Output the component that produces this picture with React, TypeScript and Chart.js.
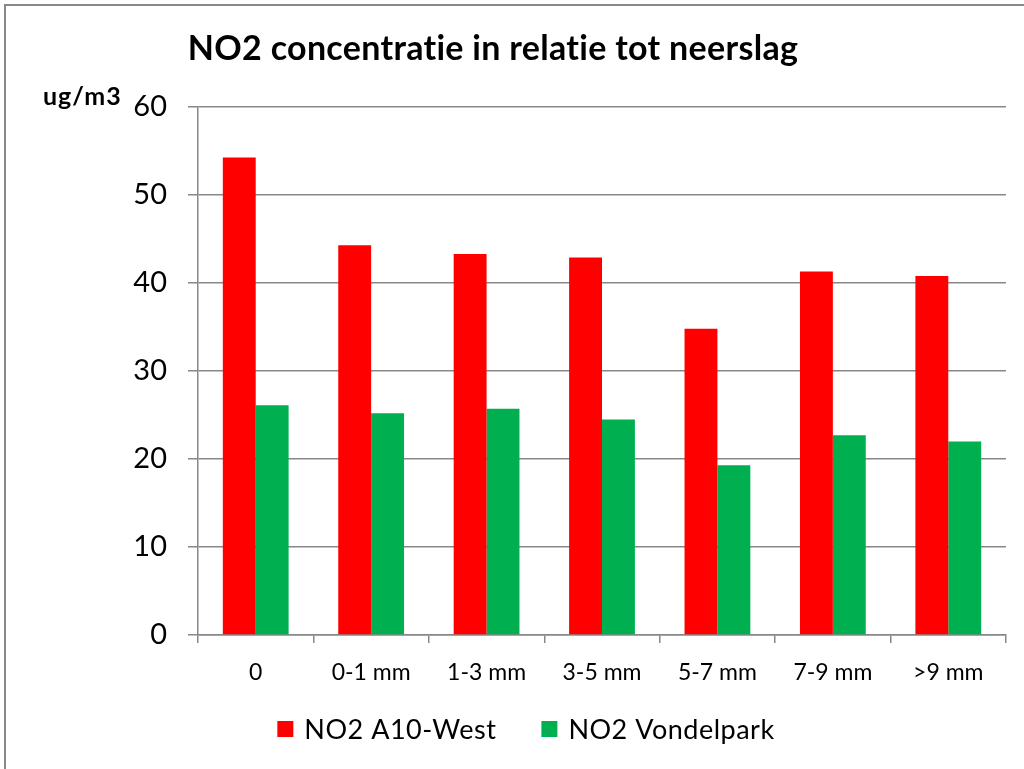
import React, { useEffect, useRef } from "react";
import { Chart, registerables } from "chart.js";

Chart.register(...registerables);

const chartTitle = "NO2 concentratie in relatie tot neerslag";
const unitLabel = "ug/m3";
const categories = ["0", "0-1 mm", "1-3 mm", "3-5 mm", "5-7 mm", "7-9 mm", ">9 mm"];
const seriesNames = ["NO2 A10-West", "NO2 Vondelpark"];
const a10West = [54.25, 44.3, 43.3, 42.9, 34.8, 41.3, 40.8];
const vondelpark = [26.1, 25.2, 25.7, 24.5, 19.3, 22.7, 22.0];
const seriesColors = ["#FF0000", "#00B050"];
const yTickValues = [0, 10, 20, 30, 40, 50, 60];

const FONT = "Lato, 'Open Sans', sans-serif";
const GRID = "#888888";

const decorPlugin = {
  id: "decor",
  beforeDraw(chart: any) {
    const ctx = chart.ctx;
    ctx.save();
    ctx.fillStyle = "#ffffff";
    ctx.fillRect(0, 0, chart.width, chart.height);
    ctx.strokeStyle = GRID;
    ctx.lineWidth = 2;
    ctx.strokeRect(5, 5, chart.width + 40, chart.height + 40);
    ctx.restore();
  },
  afterDraw(chart: any) {
    const ctx = chart.ctx;
    ctx.save();
    ctx.fillStyle = "#000";
    // title
    ctx.font = `bold 34px ${FONT}`;
    (ctx as any).letterSpacing = "0.3px";
    ctx.textAlign = "left";
    ctx.textBaseline = "alphabetic";
    const tw = ctx.measureText(chartTitle).width;
    ctx.fillText(chartTitle, 493 - tw / 2, 60);
    // unit label
    ctx.font = `bold 25px ${FONT}`;
    (ctx as any).letterSpacing = "1px";
    ctx.fillText(unitLabel, 43, 105);
    // legend
    const fs = 27;
    const box = 16;
    const gap = 11;
    const spacing = 45;
    ctx.font = `${fs}px ${FONT}`;
    (ctx as any).letterSpacing = "0.5px";
    const items = chart.data.datasets.map((ds: any) => ({
      text: ds.label,
      color: ds.backgroundColor,
      w: box + gap + ctx.measureText(ds.label).width,
    }));
    const total = items.reduce((s: number, it: any) => s + it.w, 0) + spacing * (items.length - 1);
    let x = 526 - total / 2;
    const cy = 729;
    ctx.textBaseline = "middle";
    items.forEach((it: any) => {
      ctx.fillStyle = it.color;
      ctx.fillRect(x, cy - box / 2, box, box);
      ctx.fillStyle = "#000";
      ctx.fillText(it.text, x + box + gap, cy + 1);
      x += it.w + spacing;
    });
    ctx.restore();
  },
};

export default function App() {
  const canvasRef = useRef<HTMLCanvasElement | null>(null);

  useEffect(() => {
    if (!canvasRef.current) return;
    const chart = new Chart(canvasRef.current, {
      type: "bar",
      data: {
        labels: categories,
        datasets: [
          { label: seriesNames[0], data: a10West, backgroundColor: seriesColors[0], borderWidth: 0 },
          { label: seriesNames[1], data: vondelpark, backgroundColor: seriesColors[1], borderWidth: 0 },
        ],
      },
      options: {
        animation: false,
        responsive: true,
        maintainAspectRatio: false,
        devicePixelRatio: 1,
        layout: { padding: { left: 0, right: 18, top: 107, bottom: 74 } },
        plugins: {
          legend: { display: false },
          title: { display: false },
          tooltip: { enabled: false },
        },
        datasets: {
          bar: { categoryPercentage: 0.57, barPercentage: 1 },
        },
        scales: {
          x: {
            afterFit(scale: any) {
              scale.height = 60;
            },
            grid: {
              display: true,
              drawOnChartArea: false,
              drawTicks: true,
              tickLength: 8,
              color: GRID,
              lineWidth: 1.5,
              offset: true,
            },
            border: { display: true, color: GRID, width: 1.5 },
            ticks: {
              color: "#000",
              font: { family: FONT, size: 23 },
              padding: 16,
              maxRotation: 0,
              autoSkip: false,
            },
          },
          y: {
            min: yTickValues[0],
            max: yTickValues[yTickValues.length - 1],
            afterFit(scale: any) {
              scale.width = 198;
            },
            afterBuildTicks(scale: any) {
              scale.ticks = yTickValues.map((v) => ({ value: v }));
            },
            grid: {
              color: GRID,
              lineWidth: 1.5,
              drawTicks: true,
              tickLength: 10,
            },
            border: { display: true, color: GRID, width: 1.5 },
            ticks: {
              color: "#000",
              font: { family: FONT, size: 29 },
              padding: 21,
            },
          },
        },
      },
      plugins: [decorPlugin],
    } as any);
    return () => chart.destroy();
  }, []);

  return (
    <div style={{ position: "absolute", left: 0, top: 0, width: 1024, height: 769 }}>
      <canvas ref={canvasRef} />
    </div>
  );
}
